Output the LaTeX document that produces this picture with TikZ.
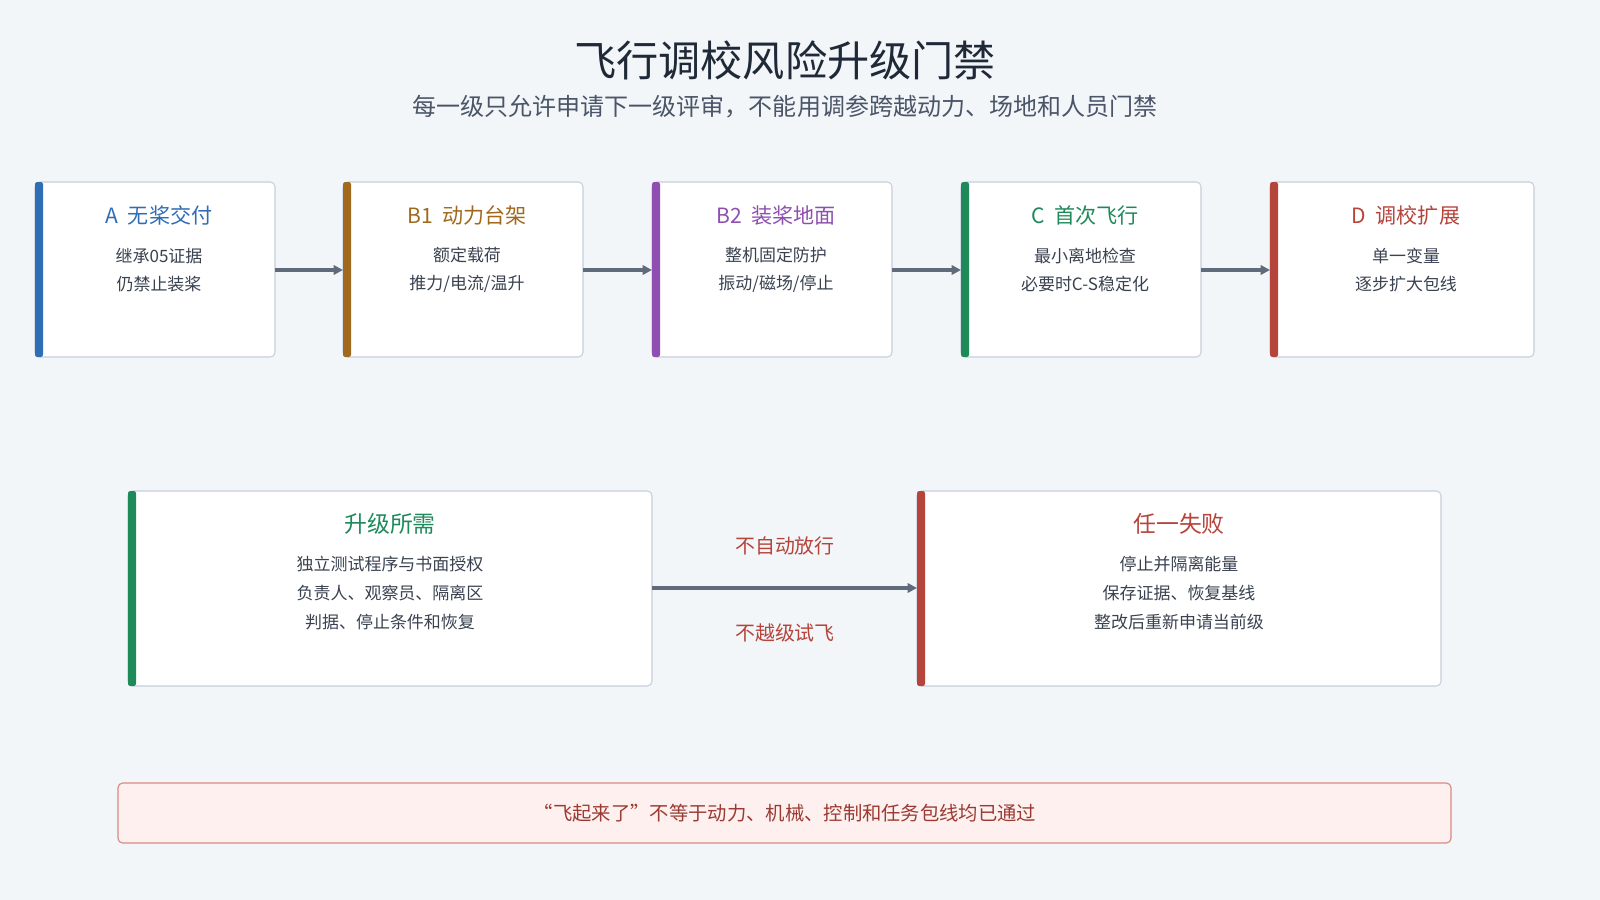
\documentclass[tikz,border=0pt]{standalone}
\usepackage{fontspec}
\newfontfamily\cjk{Noto Sans CJK SC}
\usetikzlibrary{arrows.meta}
\definecolor{bg}{HTML}{F3F6F9}
\definecolor{bd}{HTML}{C5CFDB}
\definecolor{cA}{HTML}{2F6DB5}
\definecolor{cB}{HTML}{A0691D}
\definecolor{cC}{HTML}{8E4FB0}
\definecolor{cD}{HTML}{1E8A5A}
\definecolor{cE}{HTML}{B5443B}
\definecolor{txt}{HTML}{3A4250}
\definecolor{arr}{HTML}{5F6B7A}
\begin{document}
\begin{tikzpicture}[x=0.03cm,y=-0.03cm,font=\cjk,
  box/.style={draw=bd,line width=0.9pt,fill=white,rounded corners=4pt},
  ttl/.style={font=\cjk\fontsize{18}{20}\selectfont},
  body/.style={font=\cjk\fontsize{14.5}{24}\selectfont,text=txt,align=center},
  con/.style={draw=arr,line width=2.8pt,-{Triangle[length=8pt,width=8pt]}}]
\fill[bg] (0,0) rectangle (1600,900);
\useasboundingbox (0,0) rectangle (1600,900);
\node[font=\cjk\fontsize{36}{40}\selectfont,text={rgb,255:red,31;green,41;blue,55}] (t) at (785,60) {飞行调校风险升级门禁};
\node[font=\cjk\fontsize{20.5}{24}\selectfont,text={rgb,255:red,74;green,85;blue,104}] (s) at (785,107) {每一级只允许申请下一级评审，不能用调参跨越动力、场地和人员门禁};
\newcommand{\stage}[9]{%
  \draw[box] (#2,#3) rectangle (#4,#5);
  \fill[#6,rounded corners=2pt] (#2,#3) rectangle (#2+8,#5);
  \coordinate (#1w) at (#2,270);
  \coordinate (#1e) at (#4,270);
  \node[ttl,text=#6] at ({(#2+#4)/2+4},#3+33) {#7};
  \node[body] at ({(#2+#4)/2+4},#3+88) {#8\\#9};}
\stage{a}{35}{182}{275}{357}{cA}{A\ \ 无桨交付}{继承05证据}{仍禁止装桨}
\stage{b}{343}{182}{583}{357}{cB}{B1\ \ 动力台架}{额定载荷}{推力/电流/温升}
\stage{c}{652}{182}{892}{357}{cC}{B2\ \ 装桨地面}{整机固定防护}{振动/磁场/停止}
\stage{d}{961}{182}{1201}{357}{cD}{C\ \ 首次飞行}{最小离地检查}{必要时C-S稳定化}
\stage{e}{1270}{182}{1534}{357}{cE}{D\ \ 调校扩展}{单一变量}{逐步扩大包线}
\draw[con] (ae) -- (bw);
\draw[con] (be) -- (cw);
\draw[con] (ce) -- (dw);
\draw[con] (de) -- (ew);
\draw[box] (128,491) rectangle (652,686);
\fill[cD,rounded corners=2pt] (128,491) rectangle (136,686);
\coordinate (fe) at (652,588);
\node[text=cD,font=\cjk\fontsize{19.5}{22}\selectfont] at (390,524) {升级所需};
\node[body,font=\cjk\fontsize{14.5}{24.5}\selectfont] at (390,593) {独立测试程序与书面授权\\负责人、观察员、隔离区\\判据、停止条件和恢复};
\draw[box] (917,491) rectangle (1441,686);
\fill[cE,rounded corners=2pt] (917,491) rectangle (925,686);
\coordinate (gw) at (917,588);
\node[text=cE,font=\cjk\fontsize{19.5}{22}\selectfont] at (1179,524) {任一失败};
\node[body,font=\cjk\fontsize{14.5}{24.5}\selectfont] at (1179,593) {停止并隔离能量\\保存证据、恢复基线\\整改后重新申请当前级};
\draw[con] (fe) -- (gw);
\node[text=cE,font=\cjk\fontsize{17}{19}\selectfont] at (785,546) {不自动放行};
\node[text=cE,font=\cjk\fontsize{17}{19}\selectfont] at (785,633) {不越级试飞};
\draw[draw={rgb,255:red,217;green,138;blue,130},fill={rgb,255:red,253;green,240;blue,239},line width=1pt,rounded corners=4pt] (118,783) rectangle (1451,843);
\node[text={rgb,255:red,155;green,58;blue,50},font=\cjk\fontsize{16.5}{18}\selectfont] (n) at (785,813) {“飞起来了”不等于动力、机械、控制和任务包线均已通过};
\end{tikzpicture}
\end{document}
